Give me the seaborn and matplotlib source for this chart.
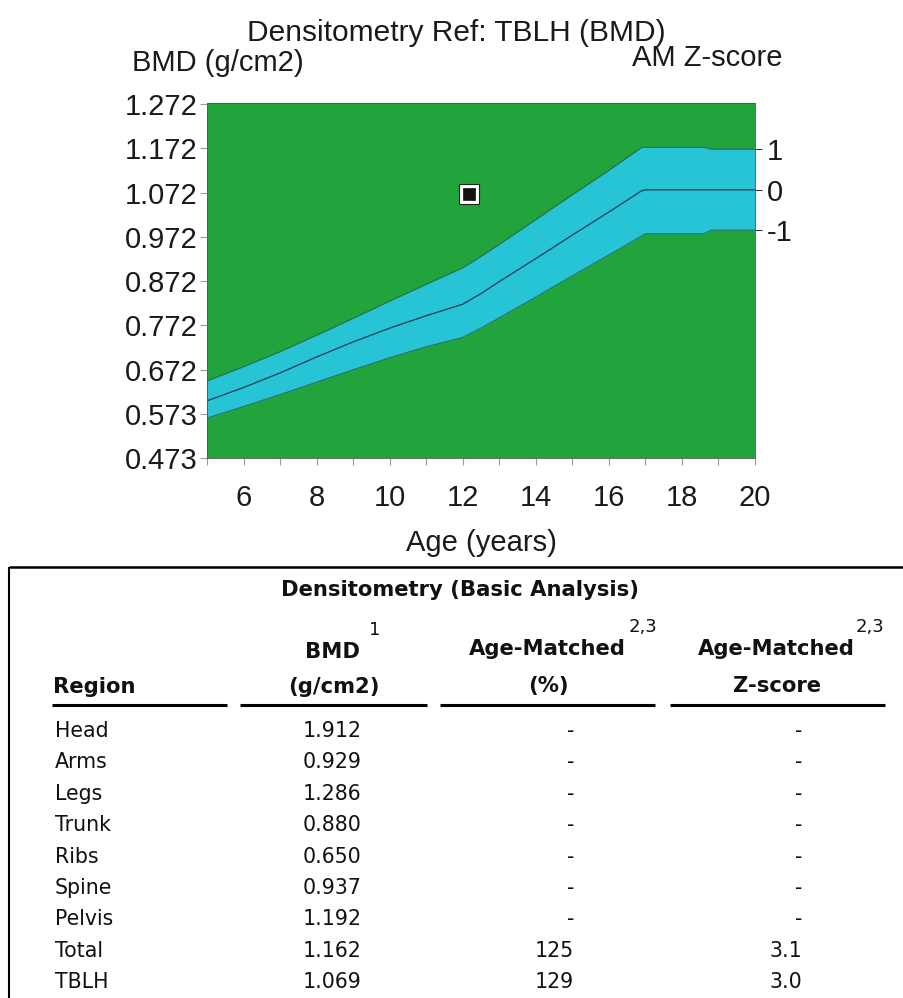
import numpy as np
import pandas as pd
import seaborn as sns
import matplotlib.pyplot as plt

# reference curve (age in years, BMD g/cm2)
ages = [5, 6, 7, 8, 9, 10, 11, 12, 12.5, 13, 14, 15, 16, 16.9, 17, 18.6, 18.8, 20]
upper = [0.647, 0.679, 0.713, 0.750, 0.788, 0.827, 0.865, 0.902, 0.928, 0.955,
         1.011, 1.067, 1.122, 1.174, 1.174, 1.174, 1.170, 1.170]
mean = [0.602, 0.632, 0.665, 0.701, 0.735, 0.766, 0.794, 0.820, 0.844, 0.871,
        0.923, 0.976, 1.028, 1.076, 1.078, 1.078, 1.078, 1.078]
lower = [0.563, 0.589, 0.616, 0.644, 0.672, 0.699, 0.724, 0.745, 0.766, 0.789,
         0.836, 0.884, 0.931, 0.974, 0.979, 0.979, 0.987, 0.987]

# patient point
pt_age = [12.18]
pt_bmd = [1.069]

ytick_labels = ['0.473', '0.573', '0.672', '0.772', '0.872', '0.972', '1.072', '1.172', '1.272']
xtick_labels = ['6', '8', '10', '12', '14', '16', '18', '20']
z_labels = ['1', '0', '-1']

# table
regions = ['Head', 'Arms', 'Legs', 'Trunk', 'Ribs', 'Spine', 'Pelvis', 'Total', 'TBLH']
bmd_vals = ['1.912', '0.929', '1.286', '0.880', '0.650', '0.937', '1.192', '1.162', '1.069']
am_pct = ['-', '-', '-', '-', '-', '-', '-', '125', '129']
am_z = ['-', '-', '-', '-', '-', '-', '-', '3.1', '3.0']

GREEN = '#20a43b'
CYAN = '#26c4d5'
TXT = '#1a1a1a'

sns.set_theme(style='white')
plt.rcParams['font.family'] = ['Liberation Sans', 'DejaVu Sans']

W, H = 904, 998
fig = plt.figure(figsize=(W / 100, H / 100), dpi=100)

def fx(x):
    return x / W

def fy(y):
    return 1 - y / H

# 图区
ax = fig.add_axes([fx(207), fy(458), (755 - 207) / W, (458 - 103) / H])
ax.set_facecolor(GREEN)

df = pd.DataFrame({'age': ages, 'upper': upper, 'mean': mean, 'lower': lower})
ax.fill_between(df['age'], df['lower'], df['upper'], color=CYAN, lw=0, zorder=1)
sns.lineplot(data=df, x='age', y='upper', ax=ax, color='#2b6e55', lw=0.8, zorder=2)
sns.lineplot(data=df, x='age', y='lower', ax=ax, color='#2b6e55', lw=0.8, zorder=2)
sns.lineplot(data=df, x='age', y='mean', ax=ax, color='#1c3c5a', lw=0.9, zorder=2)

# 病人点
ax.scatter(pt_age, pt_bmd, marker='s', s=15 ** 2, facecolor='white',
           edgecolor='#222222', linewidth=0.8, zorder=4)
ax.scatter(pt_age, pt_bmd, marker='s', s=8.5 ** 2, facecolor='#111111',
           edgecolor='#111111', linewidth=0.5, zorder=5)

ax.set_xlim(5, 20)
ax.set_ylim(0.473, 1.274)
ax.set_xlabel('')
ax.set_ylabel('')

ax.set_yticks([float(t) for t in ytick_labels])
ax.set_yticklabels(ytick_labels)
ax.set_xticks([int(t) for t in xtick_labels])
ax.set_xticklabels(xtick_labels)
ax.set_xticks(np.arange(5, 21, 1), minor=True)
ax.tick_params(axis='y', which='major', length=5, width=0.8, color='#999999',
               labelsize=21, labelcolor=TXT, pad=2, left=True)
ax.tick_params(axis='x', which='both', length=5, width=0.8, color='#999999',
               labelsize=21, labelcolor=TXT, pad=13.5, bottom=True)
for s in ax.spines.values():
    s.set_color('#4a5a4a')
    s.set_linewidth(0.6)

# 右侧 Z-score 轴
ax2 = ax.twinx()
ax2.set_ylim(ax.get_ylim())
ax2.set_yticks([upper[-1], mean[-1], lower[-1]])
ax2.set_yticklabels(z_labels)
ax2.tick_params(axis='y', length=5, width=0.8, color='#333333', labelsize=21,
                labelcolor=TXT, pad=3.5, right=True)
ax2.grid(False)
for s in ax2.spines.values():
    s.set_visible(False)

# 文字
fig.text(fx(456), fy(41), 'Densitometry Ref: TBLH (BMD)', ha='center', va='baseline',
         fontsize=21.5, color=TXT)
fig.text(fx(132), fy(71), 'BMD (g/cm2)', ha='left', va='baseline', fontsize=21, color=TXT)
fig.text(fx(783), fy(66), 'AM Z-score', ha='right', va='baseline', fontsize=21, color=TXT)
fig.text(fx(481), fy(543), 'Age (years)', ha='center', va='center', fontsize=21, color=TXT)

# 表格
axt = fig.add_axes([0, 0, 1, 1], zorder=-1)
axt.set_xlim(0, W)
axt.set_ylim(H, 0)
axt.axis('off')

axt.plot([9, W], [567, 567], color='black', lw=1.8, solid_capstyle='butt')
axt.plot([9, 9], [567, H], color='black', lw=1.5, solid_capstyle='butt')

tf = dict(family='DejaVu Sans', color='#111111')
BS = 15.2
RS = 14.8
axt.text(460, 596, 'Densitometry (Basic Analysis)', ha='center', va='baseline',
         fontsize=BS, fontweight='bold', **tf)

axt.text(333, 658, 'BMD', ha='center', va='baseline', fontsize=BS, fontweight='bold', **tf)
axt.text(375, 630, '1', ha='center', va='center', fontsize=13, **tf)
axt.text(547, 655, 'Age-Matched', ha='center', va='baseline', fontsize=BS, fontweight='bold', **tf)
axt.text(643, 627, '2,3', ha='center', va='center', fontsize=13, **tf)
axt.text(776, 655, 'Age-Matched', ha='center', va='baseline', fontsize=BS, fontweight='bold', **tf)
axt.text(870, 627, '2,3', ha='center', va='center', fontsize=13, **tf)

axt.text(53, 693, 'Region', ha='left', va='baseline', fontsize=BS, fontweight='bold', **tf)
axt.text(334, 693, '(g/cm2)', ha='center', va='baseline', fontsize=BS, fontweight='bold', **tf)
axt.text(548, 692, '(%)', ha='center', va='baseline', fontsize=BS, fontweight='bold', **tf)
axt.text(777, 692, 'Z-score', ha='center', va='baseline', fontsize=BS, fontweight='bold', **tf)

for x0, x1 in [(52, 227), (240, 427), (440, 655), (670, 885)]:
    axt.plot([x0, x1], [705, 705], color='black', lw=2.2, solid_capstyle='butt')

row_y = 737
row_h = 31.4
for i, r in enumerate(regions):
    y = row_y + i * row_h
    axt.text(55, y, r, ha='left', va='baseline', fontsize=RS, **tf)
    axt.text(332, y, bmd_vals[i], ha='center', va='baseline', fontsize=RS, **tf)
    axt.text(574, y, am_pct[i], ha='right', va='baseline', fontsize=RS, **tf)
    axt.text(802, y, am_z[i], ha='right', va='baseline', fontsize=RS, **tf)

fig.savefig('out.png', dpi=100)
